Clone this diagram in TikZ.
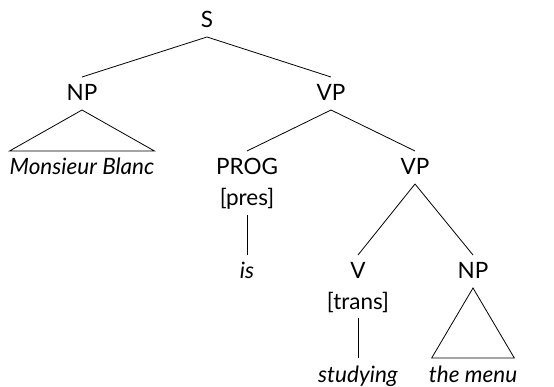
\documentclass[tikz,border=0pt]{standalone}
\usepackage{fontspec}
\setmainfont{Lato}
\begin{document}
\begin{tikzpicture}[x=1pt,y=-1pt,
  lab/.style={inner xsep=0pt, inner ysep=0pt, text height=20pt, text depth=5pt, outer ysep=4pt, anchor=base, font=\fontsize{22.5}{27}\selectfont},
  word/.style={lab, font=\fontsize{22.5}{27}\selectfont\itshape},
  edge/.style={line width=0.8pt}]
\useasboundingbox (0,0) rectangle (554,387);
\node[lab] (S) at (207,28) {S};
\node[lab] (NP) at (82,101) {NP};
\node[lab] (VP) at (331,101) {VP};
\node[word] (MB) at (82,175) {Monsieur Blanc};
\node[lab] (PROG) at (247,175) {PROG};
\node[lab] (pres) at (247,206) {[pres]};
\node[word] (is) at (247,279) {is};
\node[lab] (VP2) at (415,175) {VP};
\node[lab] (V) at (358,279) {V};
\node[lab] (trans) at (358,309) {[trans]};
\node[word] (stud) at (358,382) {studying};
\node[lab] (NP2) at (473,279) {NP};
\node[word] (menu) at (473,382) {the menu};
\draw[edge] (S.south) -- (NP.north);
\draw[edge] (S.south) -- (VP.north);
\draw[edge] (NP.south) -- (MB.north west) -- (MB.north east) -- cycle;
\draw[edge] (VP.south) -- (PROG.north);
\draw[edge] (VP.south) -- (VP2.north);
\draw[edge] (pres.south) -- (is.north);
\draw[edge] (VP2.south) -- (V.north);
\draw[edge] (VP2.south) -- (NP2.north);
\draw[edge] (trans.south) -- (stud.north);
\draw[edge] (NP2.south) -- ([xshift=3pt]menu.north west) -- ([xshift=-3pt]menu.north east) -- cycle;
\end{tikzpicture}
\end{document}
